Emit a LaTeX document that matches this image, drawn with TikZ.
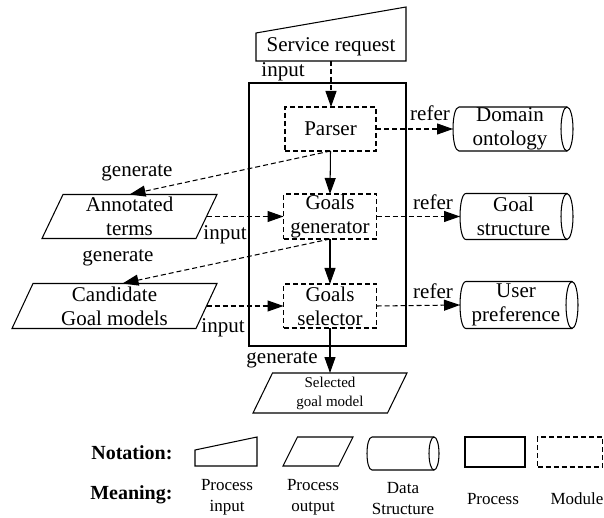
\documentclass[tikz,border=0pt]{standalone}
\usepackage{fontspec}
\setmainfont{Liberation Serif}
\usetikzlibrary{arrows.meta}

% horizontal drum: node #1 spans the body up to the centre of the right cap,
% #2 is the cap radius, #3 half the height
\newcommand\drumshape[3]{%
  \draw ([xshift=#2pt]#1.north west) -- (#1.north east)
        (#1.south east) -- ([xshift=#2pt]#1.south west)
        .. controls ([xshift=-#2pt/3]#1.south west) and ([xshift=-#2pt/3]#1.north west)
        .. ([xshift=#2pt]#1.north west);
  \draw (#1.east) ellipse [x radius=#2pt, y radius=#3pt];}

% slanted box around node #1, slant #2
\newcommand\slantshape[2]{%
  \draw ([xshift=#2pt]#1.north west) -- (#1.north east)
        -- ([xshift=-#2pt]#1.south east) -- (#1.south west) -- cycle;}

\tikzset{
  base/.style={font=\fontsize{21}{24}\selectfont, align=center, inner sep=0pt, outer sep=0pt},
  module/.style={base, draw, dash pattern=on 5pt off 3pt, minimum width=93pt, minimum height=45pt},
  holder/.style={base},
  lbl/.style={font=\fontsize{21}{24}\selectfont, inner sep=0pt},
  small/.style={base, font=\fontsize{15}{19}\selectfont},
  meaning/.style={base, font=\fontsize{17}{21}\selectfont},
  head/.style={font=\bfseries\fontsize{20}{24}\selectfont, inner sep=0pt, anchor=east},
  tip/.style={-{Triangle[length=16pt,width=11pt]}},
  dflow/.style={tip, dash pattern=on 5pt off 3pt},
  sflow/.style={tip},
}

\begin{document}
\begin{tikzpicture}[x=1pt, y=-1pt, line width=1.05pt]
\useasboundingbox (0,0) rectangle (604,518);

% process input
\node[holder, minimum width=150pt, minimum height=28pt] (req) at (331,47) {Service request};
\draw (req.north west) -- ([yshift=26pt]req.north east) -- (req.south east) -- (req.south west) -- cycle;

% the process with its modules
\node[draw, minimum width=157pt, minimum height=263pt, inner sep=0pt, outer sep=0pt] (proc) at (327.5,214.5) {};
\node[module, minimum width=91pt, minimum height=44pt] (parser) at (330.5,129) {Parser};
\node[module] (gen) at (330,216.5) {Goals\\generator};
\node[module, minimum height=44pt] (sel) at (330,306) {Goals\\selector};

% data structures
\node[holder, minimum width=114pt, minimum height=44pt] (dom) at (510,129) {Domain\\ontology};
\drumshape{dom}{6}{22}
\node[holder, minimum width=107pt, minimum height=46pt] (gs) at (513.5,216.5) {Goal\\structure};
\drumshape{gs}{6}{23}
\node[holder, minimum width=112pt, minimum height=47pt] (up) at (516,305) {User\\preference};
\drumshape{up}{6}{23.5}

% process outputs
\node[holder, minimum width=175pt, minimum height=44pt] (annot) at (129.5,216.5) {Annotated\\terms};
\slantshape{annot}{21}
\node[holder, minimum width=205pt, minimum height=45pt] (cand) at (114.5,306) {Candidate\\Goal models};
\slantshape{cand}{21}
\node[small, minimum width=154pt, minimum height=40pt] (out) at (330,393) {Selected\\goal model};
\slantshape{out}{19.5}

% connectors
\draw[dflow] (req.south) -- (req.south |- parser.north);
\draw[sflow] (parser.south) -- (gen.north);
\draw[sflow] (gen.south) -- (sel.north);
\draw[sflow] (sel.south) -- (out.north);
\draw[dflow] (parser.east) -- (dom.west);
\draw[dflow] (gen.east) -- (gs.west);
\draw[dflow] (sel.east) -- (up.west);
\draw[dflow] (parser.south) -- (annot.north);
\draw[dflow] (gen.south) -- ([xshift=8pt]cand.north);
\draw[dflow] ([xshift=-10.5pt]annot.east) -- (gen.west);
\draw[dflow] ([xshift=-10.5pt]cand.east) -- (sel.west);

% connector labels
\node[lbl] (l1) at (283,72) {input};
\node[lbl] (l2) at (430,113) {refer};
\node[lbl] (l3) at (433,202) {refer};
\node[lbl] (l4) at (433,291) {refer};
\node[lbl] (l5) at (137,173) {generate};
\node[lbl] (l6) at (118,258) {generate};
\node[lbl] (l7) at (225,235) {input};
\node[lbl] (l8) at (223,328) {input};
\node[lbl] (l9) at (282,360) {generate};

% notation
\node[head] (nh) at (173,453) {Notation:};
\node[head] (mh) at (173,495) {Meaning:};

\node[holder, minimum width=62pt, minimum height=16pt] (k1) at (226,458) {};
\draw (k1.north west) -- ([yshift=13pt]k1.north east) -- (k1.south east) -- (k1.south west) -- cycle;
\node[holder, minimum width=70pt, minimum height=29pt] (k2) at (318,451.5) {};
\slantshape{k2}{14.5}
\node[holder, minimum width=67pt, minimum height=33pt] (k3) at (400.5,453.5) {};
\drumshape{k3}{5}{16.5}
\node[draw, minimum width=60pt, minimum height=30pt, inner sep=0pt] (k4) at (495,452) {};
\node[draw, dash pattern=on 5pt off 3pt, minimum width=65pt, minimum height=30pt, inner sep=0pt] (k5) at (570,452) {};

\node[meaning] (m1) at (227,497.5) {Process\\input};
\node[meaning] (m2) at (313,497.5) {Process\\output};
\node[meaning] (m3) at (403,499) {Data\\Structure};
\node[meaning] (m4) at (493,499) {Process};
\node[meaning] (m5) at (577,499) {Module};
\end{tikzpicture}
\end{document}
